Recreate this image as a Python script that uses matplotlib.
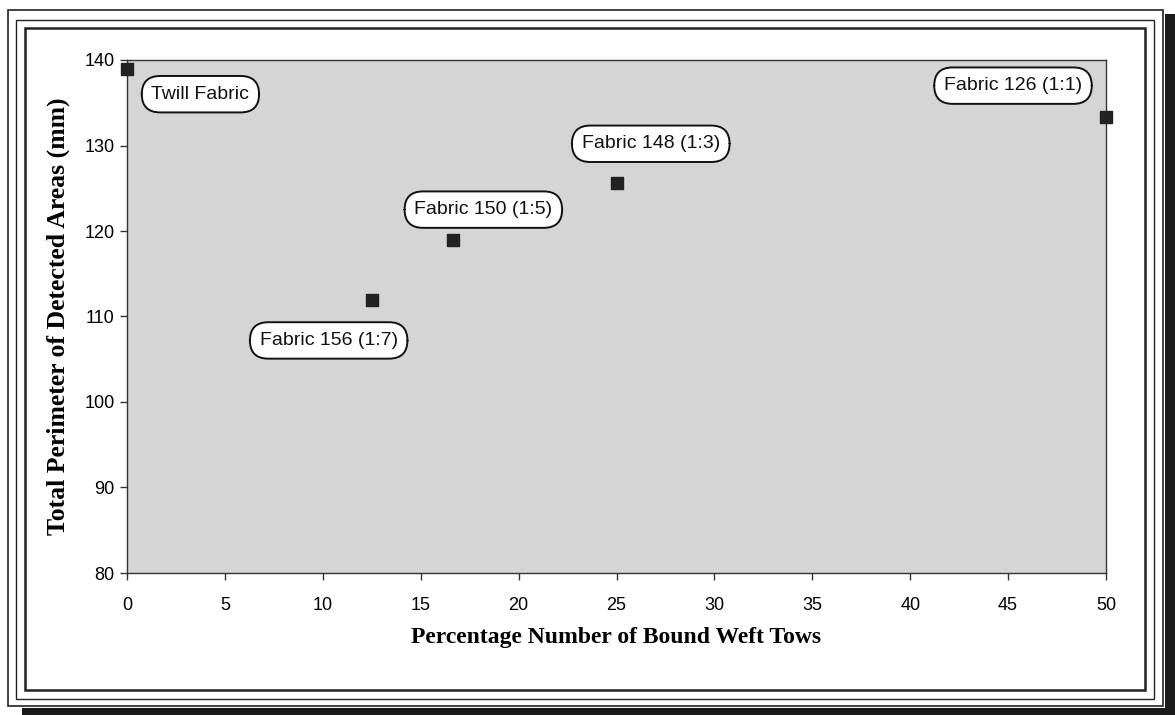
import matplotlib.pyplot as plt
from matplotlib.patches import Rectangle

# Data
pct_bound = [0, 12.5, 16.67, 25, 50]
perimeter = [139.0, 111.9, 118.9, 125.6, 133.3]
names = ['Twill Fabric', 'Fabric 156 (1:7)', 'Fabric 150 (1:5)',
         'Fabric 148 (1:3)', 'Fabric 126 (1:1)']
label_pos = [(3.75, 136.0), (10.3, 107.2), (18.2, 122.5),
             (26.75, 130.2), (45.25, 137.0)]

fig = plt.figure(figsize=(11.75, 7.15), dpi=100)
fig.patch.set_facecolor('white')

# outer frames + shadow (figure coords)
def frac(x0, y0, x1, y1):
    return (x0 / 1175, 1 - y1 / 715, (x1 - x0) / 1175, (y1 - y0) / 715)

for (x0, y0, x1, y1), lw in [((8, 10, 1163, 706), 1.2), ((16, 20, 1154, 699), 1.0),
                             ((25, 28, 1145, 690), 1.8)]:
    l, b, w, h = frac(x0, y0, x1, y1)
    fig.patches.append(Rectangle((l, b), w, h, transform=fig.transFigure,
                                 fill=False, ec='#222222', lw=lw))
l, b, w, h = frac(1165, 14, 1175, 715)
fig.patches.append(Rectangle((l, b), w, h, transform=fig.transFigure, fc='#1a1a1a', ec='none'))
l, b, w, h = frac(22, 708, 1175, 715)
fig.patches.append(Rectangle((l, b), w, h, transform=fig.transFigure, fc='#1a1a1a', ec='none'))

ax = fig.add_axes(frac(127, 60, 1106, 573))
ax.set_facecolor('#d5d5d5')
ax.scatter(pct_bound, perimeter, marker='s', s=75, color='#222222', zorder=5, clip_on=False)

for name, (lx, ly) in zip(names, label_pos):
    ax.text(lx, ly, name, ha='center', va='center', fontsize=14,
            family='Liberation Sans', color='#111111', zorder=6,
            bbox=dict(boxstyle='round,pad=0.5,rounding_size=0.95', fc='white',
                      ec='#111111', lw=1.4))

ax.set_xlim(0, 50)
ax.set_ylim(80, 140)
ax.set_xticks(range(0, 51, 5))
ax.set_yticks(range(80, 141, 10))
for s in ax.spines.values():
    s.set_color('#333333')
    s.set_linewidth(1.0)
ax.tick_params(direction='out', length=5, width=1, color='#333333', labelsize=13, pad=12)
ax.tick_params(axis='y', pad=4)
for t in ax.get_xticklabels() + ax.get_yticklabels():
    t.set_family('Liberation Sans')

ax.set_xlabel('Percentage Number of Bound Weft Tows', family='Liberation Serif',
              fontsize=17, fontweight='bold', labelpad=10)
ax.set_ylabel('Total Perimeter of Detected Areas (mm)', family='Liberation Serif',
              fontsize=18.5, fontweight='bold', labelpad=10)

plt.savefig('out.png', dpi=100)
